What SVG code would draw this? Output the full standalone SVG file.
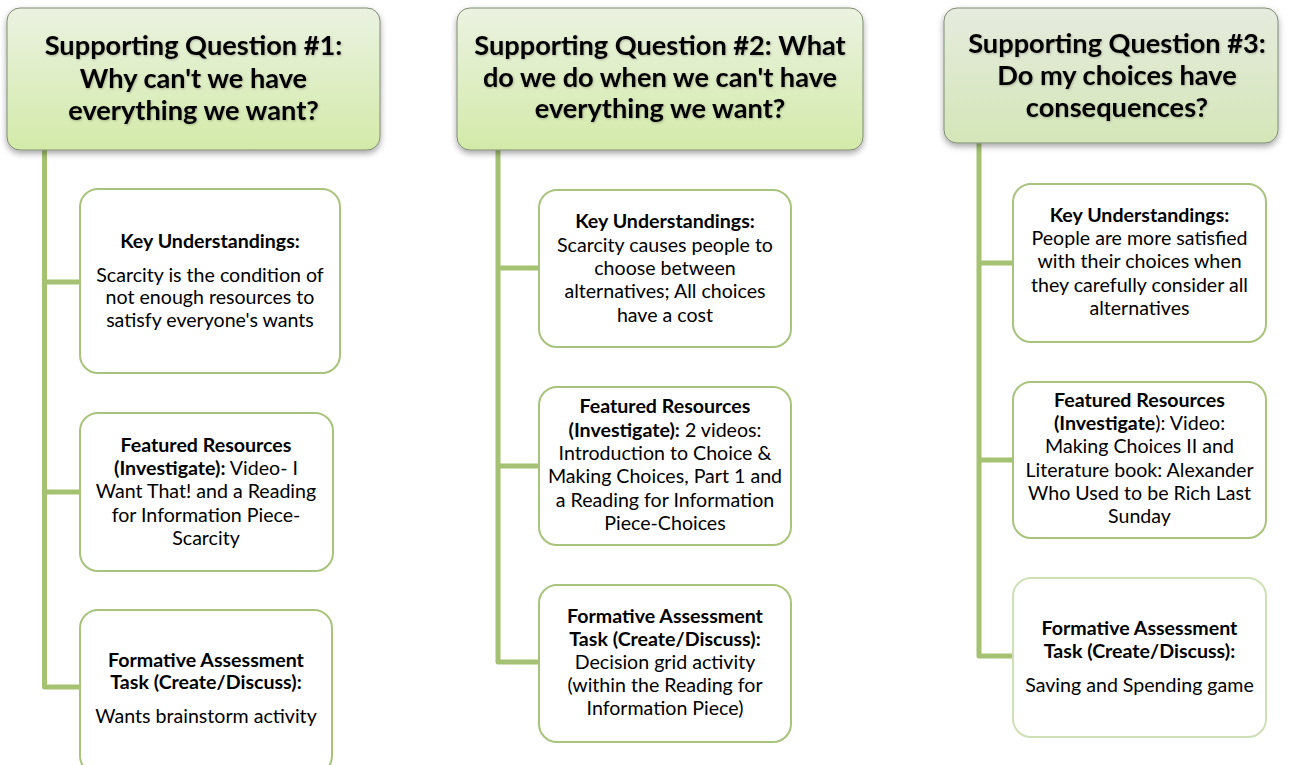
<svg xmlns="http://www.w3.org/2000/svg" width="1289" height="765" viewBox="0 0 1289 765">
  <defs>
    <linearGradient id="gHead" x1="0" y1="0" x2="0" y2="1">
      <stop offset="0" stop-color="#ebf2e1"/>
      <stop offset="1" stop-color="#d3eaa9"/>
    </linearGradient>
    <linearGradient id="gHead3" x1="0" y1="0" x2="0" y2="1">
      <stop offset="0" stop-color="#e6ebde"/>
      <stop offset="1" stop-color="#d4e6b8"/>
    </linearGradient>
    <filter id="boxShadow" x="-10%" y="-10%" width="120%" height="130%">
      <feDropShadow dx="0" dy="3" stdDeviation="3" flood-color="#000" flood-opacity="0.35"/>
    </filter>
    <filter id="textShadow" x="-5%" y="-20%" width="110%" height="140%">
      <feDropShadow dx="0.8" dy="1" stdDeviation="1" flood-color="#000" flood-opacity="0.25"/>
    </filter>
  </defs>
  <style>
    .head { stroke: #7f8c74; stroke-width: 1; }
    .htxt { font-family: Lato, "Open Sans", sans-serif; font-weight: bold; font-size: 27.2px; fill: #000; text-anchor: middle; }
    .card { fill: #fff; stroke: #a8c47c; stroke-width: 2; }
    .ctxt { font-family: Lato, "Open Sans", sans-serif; font-size: 19.6px; fill: #000; text-anchor: middle; }
    .b { font-weight: bold; }
    .conn { fill: none; stroke: #a4c271; stroke-width: 5; stroke-linejoin: round; }
  </style>

  <!-- tree lines: trunk from each header down to the last card -->
  <g id="connectors">
    <path class="conn" d="M44.5 150 V687 H80 M44.5 282 H80 M44.5 492 H80"/>
    <path class="conn" d="M498 150 V662 H539 M498 268 H539 M498 466 H539"/>
    <path class="conn" d="M979 143 V656 H1013 M979 263 H1013 M979 460 H1013"/>
  </g>

  <!-- column 1 -->
  <g id="q1">
    <rect class="head" x="7" y="8" width="373" height="142" rx="13" fill="url(#gHead)" filter="url(#boxShadow)"/>
    <g filter="url(#textShadow)">
      <text class="htxt" x="193.5" y="55">Supporting Question #1:</text>
      <text class="htxt" x="193.5" y="88">Why can't we have</text>
      <text class="htxt" x="193.5" y="120">everything we want?</text>
    </g>
  </g>
  <g id="q1-key">
    <rect class="card" x="80" y="189" width="260" height="184" rx="18"/>
    <text class="ctxt b" x="210" y="248">Key Understandings:</text>
    <text class="ctxt" x="210" y="282">Scarcity is the condition of</text>
    <text class="ctxt" x="210" y="304">not enough resources to</text>
    <text class="ctxt" x="210" y="327">satisfy everyone's wants</text>
  </g>
  <g id="q1-resources">
    <rect class="card" x="80" y="413" width="253" height="158" rx="18"/>
    <text class="ctxt b" x="206" y="452">Featured Resources</text>
    <text class="ctxt" x="206" y="475"><tspan class="b">(Investigate):</tspan> Video- I</text>
    <text class="ctxt" x="206" y="498">Want That! and a Reading</text>
    <text class="ctxt" x="206" y="522">for Information Piece-</text>
    <text class="ctxt" x="206" y="545">Scarcity</text>
  </g>
  <g id="q1-task">
    <rect class="card" x="80" y="610" width="252" height="164" rx="18"/>
    <text class="ctxt b" x="206" y="667">Formative Assessment</text>
    <text class="ctxt b" x="206" y="689">Task (Create/Discuss):</text>
    <text class="ctxt" x="206" y="723">Wants brainstorm activity</text>
  </g>

  <!-- column 2 -->
  <g id="q2">
    <rect class="head" x="457" y="8" width="406" height="142" rx="13" fill="url(#gHead)" filter="url(#boxShadow)"/>
    <g filter="url(#textShadow)">
      <text class="htxt" x="660" y="55">Supporting Question #2: What</text>
      <text class="htxt" x="660" y="87">do we do when we can't have</text>
      <text class="htxt" x="660" y="118">everything we want?</text>
    </g>
  </g>
  <g id="q2-key">
    <rect class="card" x="539" y="190" width="252" height="157" rx="18"/>
    <text class="ctxt b" x="665" y="228">Key Understandings:</text>
    <text class="ctxt" x="665" y="252">Scarcity causes people to</text>
    <text class="ctxt" x="665" y="275">choose between</text>
    <text class="ctxt" x="665" y="298">alternatives; All choices</text>
    <text class="ctxt" x="665" y="322">have a cost</text>
  </g>
  <g id="q2-resources">
    <rect class="card" x="539" y="387" width="252" height="158" rx="18"/>
    <text class="ctxt b" x="665" y="413">Featured Resources</text>
    <text class="ctxt" x="665" y="437"><tspan class="b">(Investigate):</tspan> 2 videos:</text>
    <text class="ctxt" x="665" y="460">Introduction to Choice &amp;</text>
    <text class="ctxt" x="665" y="483">Making Choices, Part 1 and</text>
    <text class="ctxt" x="665" y="507">a Reading for Information</text>
    <text class="ctxt" x="665" y="530">Piece-Choices</text>
  </g>
  <g id="q2-task">
    <rect class="card" x="539" y="585" width="252" height="157" rx="18"/>
    <text class="ctxt b" x="665" y="623">Formative Assessment</text>
    <text class="ctxt b" x="665" y="646">Task (Create/Discuss):</text>
    <text class="ctxt" x="665" y="669">Decision grid activity</text>
    <text class="ctxt" x="665" y="692">(within the Reading for</text>
    <text class="ctxt" x="665" y="715">Information Piece)</text>
  </g>

  <!-- column 3 -->
  <g id="q3">
    <rect class="head" x="944" y="8" width="334" height="135" rx="13" fill="url(#gHead3)" filter="url(#boxShadow)"/>
    <g filter="url(#textShadow)">
      <text class="htxt" x="1117" y="53">Supporting Question #3:</text>
      <text class="htxt" x="1117" y="85">Do my choices have</text>
      <text class="htxt" x="1117" y="117">consequences?</text>
    </g>
  </g>
  <g id="q3-key">
    <rect class="card" x="1013" y="184" width="253" height="158" rx="18"/>
    <text class="ctxt b" x="1139.5" y="222">Key Understandings:</text>
    <text class="ctxt" x="1139.5" y="245">People are more satisfied</text>
    <text class="ctxt" x="1139.5" y="268">with their choices when</text>
    <text class="ctxt" x="1139.5" y="292">they carefully consider all</text>
    <text class="ctxt" x="1139.5" y="315">alternatives</text>
  </g>
  <g id="q3-resources">
    <rect class="card" x="1013" y="382" width="253" height="156" rx="18"/>
    <text class="ctxt b" x="1139.5" y="407">Featured Resources</text>
    <text class="ctxt" x="1139.5" y="430"><tspan class="b">(Investigate</tspan>): Video:</text>
    <text class="ctxt" x="1139.5" y="453">Making Choices II and</text>
    <text class="ctxt" x="1139.5" y="477">Literature book: Alexander</text>
    <text class="ctxt" x="1139.5" y="500">Who Used to be Rich Last</text>
    <text class="ctxt" x="1139.5" y="523">Sunday</text>
  </g>
  <g id="q3-task">
    <rect class="card" x="1013" y="578" width="253" height="159" rx="18" style="stroke:#cfe0b6"/>
    <text class="ctxt b" x="1139.5" y="635">Formative Assessment</text>
    <text class="ctxt b" x="1139.5" y="658">Task (Create/Discuss):</text>
    <text class="ctxt" x="1139.5" y="692">Saving and Spending game</text>
  </g>
</svg>
